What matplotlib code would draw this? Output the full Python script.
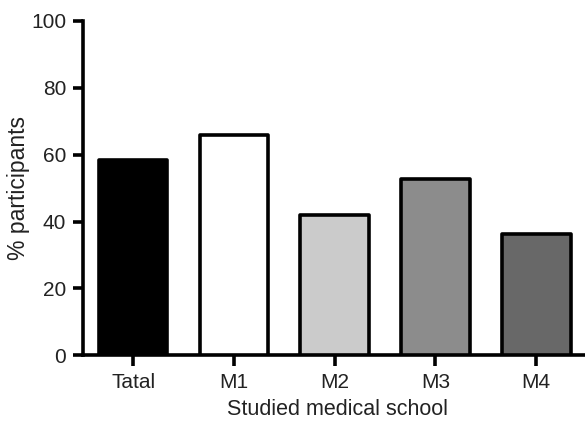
import matplotlib.pyplot as plt

plt.rcParams['font.family'] = ['Liberation Sans', 'DejaVu Sans']

schools = ['Tatal', 'M1', 'M2', 'M3', 'M4']
percent = [58.5, 65.8, 42.0, 52.8, 36.4]
fills = ['#000000', '#ffffff', '#cbcbcb', '#8c8c8c', '#686868']
y_ticks = [0, 20, 40, 60, 80, 100]

fig = plt.figure(figsize=(5.85, 4.26), dpi=100)
ax = fig.add_axes([0.1414, 0.166, 0.87, 0.785])

bars = ax.bar(range(len(schools)), percent, width=0.68, color=fills,
              edgecolor='black', linewidth=2.6, zorder=3)
for b in bars:
    b.set_joinstyle('round')

ax.set_xlim(-0.5, 4.55)
ax.set_ylim(0, 100)
ax.set_xticks(range(len(schools)))
ax.set_xticklabels(schools)
ax.set_yticks(y_ticks)

for side in ['top', 'right']:
    ax.spines[side].set_visible(False)
for side in ['left', 'bottom']:
    ax.spines[side].set_linewidth(2.6)

ax.tick_params(axis='both', labelsize=15, width=2.6, colors='black',
               labelcolor='#222222')
ax.tick_params(axis='x', length=8, pad=5)
ax.tick_params(axis='y', length=7, pad=5)

ax.set_xlabel('Studied medical school', fontsize=15.5, color='#222222', labelpad=5)
ax.set_ylabel('% participants', fontsize=16.5, color='#222222', labelpad=1)

fig.savefig('out.png', dpi=100)
